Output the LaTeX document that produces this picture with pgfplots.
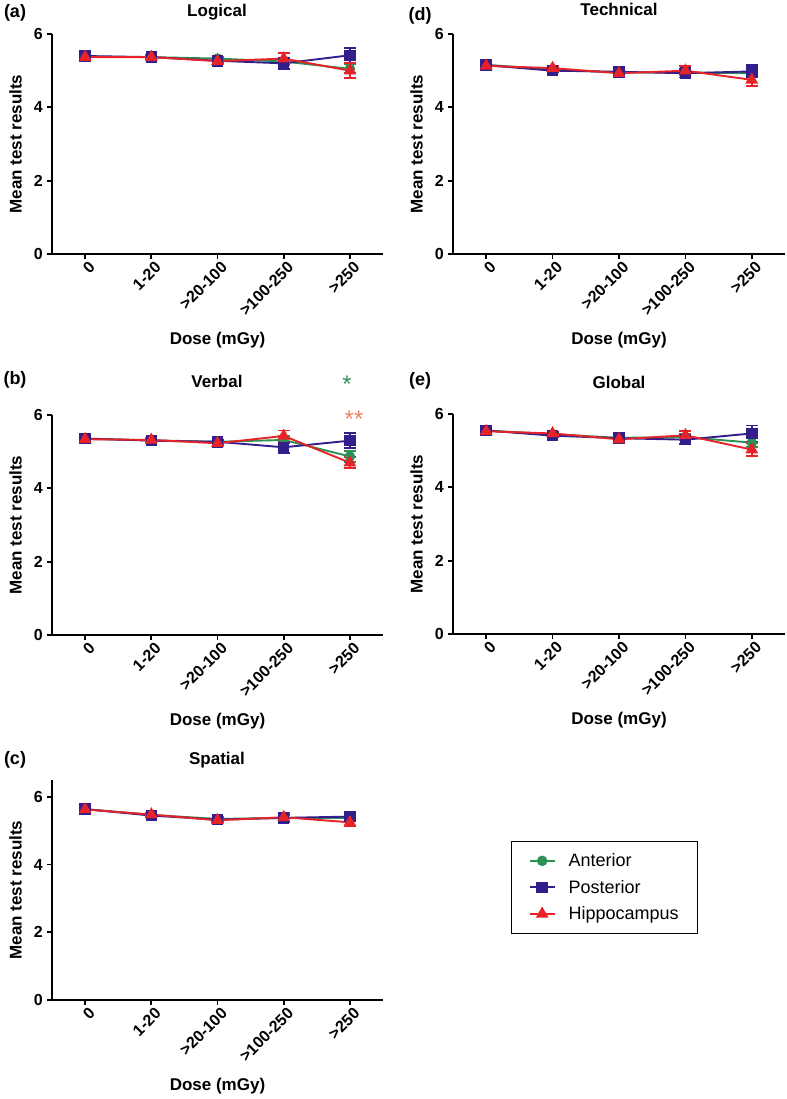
\documentclass[border=0pt]{standalone}
\usepackage{pgfplots}
\pgfplotsset{compat=1.18}
\usepackage{pgfplotstable}
\usepackage{fontspec}
\setmainfont{Liberation Sans}
\definecolor{cA}{RGB}{45,145,85}
\definecolor{cP}{RGB}{52,30,140}
\definecolor{cH}{RGB}{232,35,40}
\definecolor{cO}{RGB}{240,130,100}

% x: 0=0, 1=1-20, 2=>20-100, 3=>100-250, 4=>250
\pgfplotstableread{
x a ea p ep h eh
0 5.38 0.05 5.40 0.05 5.37 0.05
1 5.37 0.05 5.37 0.05 5.37 0.05
2 5.33 0.05 5.27 0.05 5.26 0.06
3 5.25 0.10 5.20 0.15 5.33 0.15
4 5.05 0.12 5.42 0.20 5.00 0.20
}\tLogical
\pgfplotstableread{
x a ea p ep h eh
0 5.35 0.05 5.36 0.05 5.34 0.05
1 5.31 0.05 5.30 0.05 5.32 0.05
2 5.27 0.05 5.27 0.05 5.23 0.05
3 5.32 0.10 5.12 0.15 5.43 0.15
4 4.87 0.15 5.30 0.20 4.70 0.15
}\tVerbal
\pgfplotstableread{
x a ea p ep h eh
0 5.64 0.04 5.64 0.04 5.63 0.04
1 5.47 0.05 5.45 0.05 5.48 0.05
2 5.35 0.05 5.33 0.05 5.31 0.05
3 5.38 0.08 5.38 0.12 5.40 0.12
4 5.38 0.10 5.42 0.12 5.25 0.12
}\tSpatial
\pgfplotstableread{
x a ea p ep h eh
0 5.16 0.05 5.15 0.05 5.13 0.05
1 5.03 0.05 5.00 0.05 5.07 0.05
2 4.95 0.05 4.97 0.06 4.93 0.06
3 4.95 0.08 4.93 0.12 5.00 0.12
4 4.93 0.10 4.98 0.17 4.75 0.17
}\tTechnical
\pgfplotstableread{
x a ea p ep h eh
0 5.55 0.04 5.55 0.04 5.53 0.04
1 5.45 0.04 5.41 0.05 5.47 0.05
2 5.35 0.04 5.34 0.05 5.31 0.05
3 5.37 0.08 5.30 0.12 5.42 0.12
4 5.22 0.12 5.47 0.22 5.03 0.17
}\tGlobal

\pgfplotsset{
  panel/.style={
    scale only axis, width=331bp, height=220bp,
    axis x line=bottom, axis y line=left,
    axis line style={line width=1.7bp, -},
    xmin=-0.5, xmax=4.5, ymin=0, ymax=6,
    xtick={0,1,2,3,4},
    xticklabels={0,1-20,>20-100,>100-250,>250},
    ytick={0,2,4,6},
    tick align=outside, major tick length=5bp,
    tick style={line width=1.7bp, black},
    /pgf/number format/assume math mode=true,
    yticklabel style={font=\bfseries\fontsize{16bp}{19bp}\selectfont, inner sep=1bp, xshift=-3bp},
    xticklabel style={font=\bfseries\fontsize{16bp}{19bp}\selectfont, rotate=45, anchor=north east, inner sep=1bp, yshift=-2bp, xshift=2bp},
    xlabel={Dose (mGy)}, ylabel={Mean test results},
    xlabel style={font=\bfseries\fontsize{17bp}{20bp}\selectfont, at={(axis description cs:0.5,-0.39)}, anchor=center},
    ylabel style={font=\bfseries\fontsize{17bp}{20bp}\selectfont, at={(axis description cs:-0.11,0.5)}, anchor=center, rotate=0},
    clip=false,
  },
  sA/.style={cA, line width=1.9bp, mark=*, mark size=4.3bp, mark options={solid, fill=cA},
    error bars/.cd, y dir=both, y explicit, error bar style={line width=1.7bp},
    error mark options={rotate=90, mark size=6bp, line width=1.7bp, cA}},
  sP/.style={cP, line width=1.9bp, mark=square*, mark size=4.8bp, mark options={solid, fill=cP},
    error bars/.cd, y dir=both, y explicit, error bar style={line width=1.7bp},
    error mark options={rotate=90, mark size=6bp, line width=1.7bp, cP}},
  sH/.style={cH, line width=1.9bp, mark=triangle*, mark size=5.5bp, mark options={solid, fill=cH},
    error bars/.cd, y dir=both, y explicit, error bar style={line width=1.7bp},
    error mark options={rotate=90, mark size=6bp, line width=1.7bp, cH}},
}

\begin{document}
\begin{tikzpicture}
\useasboundingbox (0,0) rectangle (787bp,-1099bp);

% (a) Logical
\begin{axis}[panel, at={(52bp,-254bp)}, anchor=south west]
\addplot[sA] table[x=x, y=a, y error=ea]{\tLogical};
\addplot[sP] table[x=x, y=p, y error=ep]{\tLogical};
\addplot[sH] table[x=x, y=h, y error=eh]{\tLogical};
\end{axis}

% (d) Technical
\begin{axis}[panel, width=332bp, at={(453bp,-254bp)}, anchor=south west]
\addplot[sA] table[x=x, y=a, y error=ea]{\tTechnical};
\addplot[sP] table[x=x, y=p, y error=ep]{\tTechnical};
\addplot[sH] table[x=x, y=h, y error=eh]{\tTechnical};
\end{axis}

% (b) Verbal
\begin{axis}[panel, at={(52bp,-635bp)}, anchor=south west]
\addplot[sA] table[x=x, y=a, y error=ea]{\tVerbal};
\addplot[sP] table[x=x, y=p, y error=ep]{\tVerbal};
\addplot[sH] table[x=x, y=h, y error=eh]{\tVerbal};
\end{axis}

% (e) Global
\begin{axis}[panel, width=332bp, at={(453bp,-634bp)}, anchor=south west]
\addplot[sA] table[x=x, y=a, y error=ea]{\tGlobal};
\addplot[sP] table[x=x, y=p, y error=ep]{\tGlobal};
\addplot[sH] table[x=x, y=h, y error=eh]{\tGlobal};
\end{axis}

% (c) Spatial
\begin{axis}[panel, ymax=6.5, at={(52bp,-1000bp)}, anchor=south west,
  legend style={at={(axis description cs:1.387,0.723)}, anchor=north west,
    draw=black, line width=1.3bp, font=\fontsize{18bp}{21bp}\selectfont,
    inner xsep=17bp, inner ysep=10bp, row sep=8bp},
  legend cell align=left,
  legend image code/.code={\path (0bp,0bp) (36bp,0bp);
    \draw[mark repeat=2, mark phase=2, #1] plot coordinates {(0bp,0bp) (12.5bp,0bp) (25bp,0bp)};}]
\addplot[sA] table[x=x, y=a, y error=ea]{\tSpatial};
\addplot[sP] table[x=x, y=p, y error=ep]{\tSpatial};
\addplot[sH] table[x=x, y=h, y error=eh]{\tSpatial};
\legend{Anterior, Posterior, Hippocampus}
\end{axis}

% titles and panel letters
\begin{scope}[every node/.style={font=\bfseries\fontsize{17bp}{20bp}\selectfont}]
\node at (217bp,-12bp) {Logical};
\node at (619bp,-9bp) {Technical};
\node at (217bp,-381bp) {Verbal};
\node at (619bp,-382bp) {Global};
\node at (217bp,-760bp) {Spatial};
\end{scope}
\begin{scope}[every node/.style={font=\bfseries\fontsize{18bp}{21bp}\selectfont}]
\node at (15bp,-13bp) {(a)};
\node at (420bp,-16bp) {(d)};
\node at (15bp,-380bp) {(b)};
\node at (420bp,-381bp) {(e)};
\node at (15bp,-760bp) {(c)};
\end{scope}

% significance marks
\node[text=cA, font=\fontsize{24bp}{24bp}\selectfont, anchor=base] at (347bp,-392bp) {*};
\node[text=cO, font=\fontsize{24bp}{24bp}\selectfont, anchor=base] at (354bp,-427bp) {**};
\end{tikzpicture}
\end{document}
